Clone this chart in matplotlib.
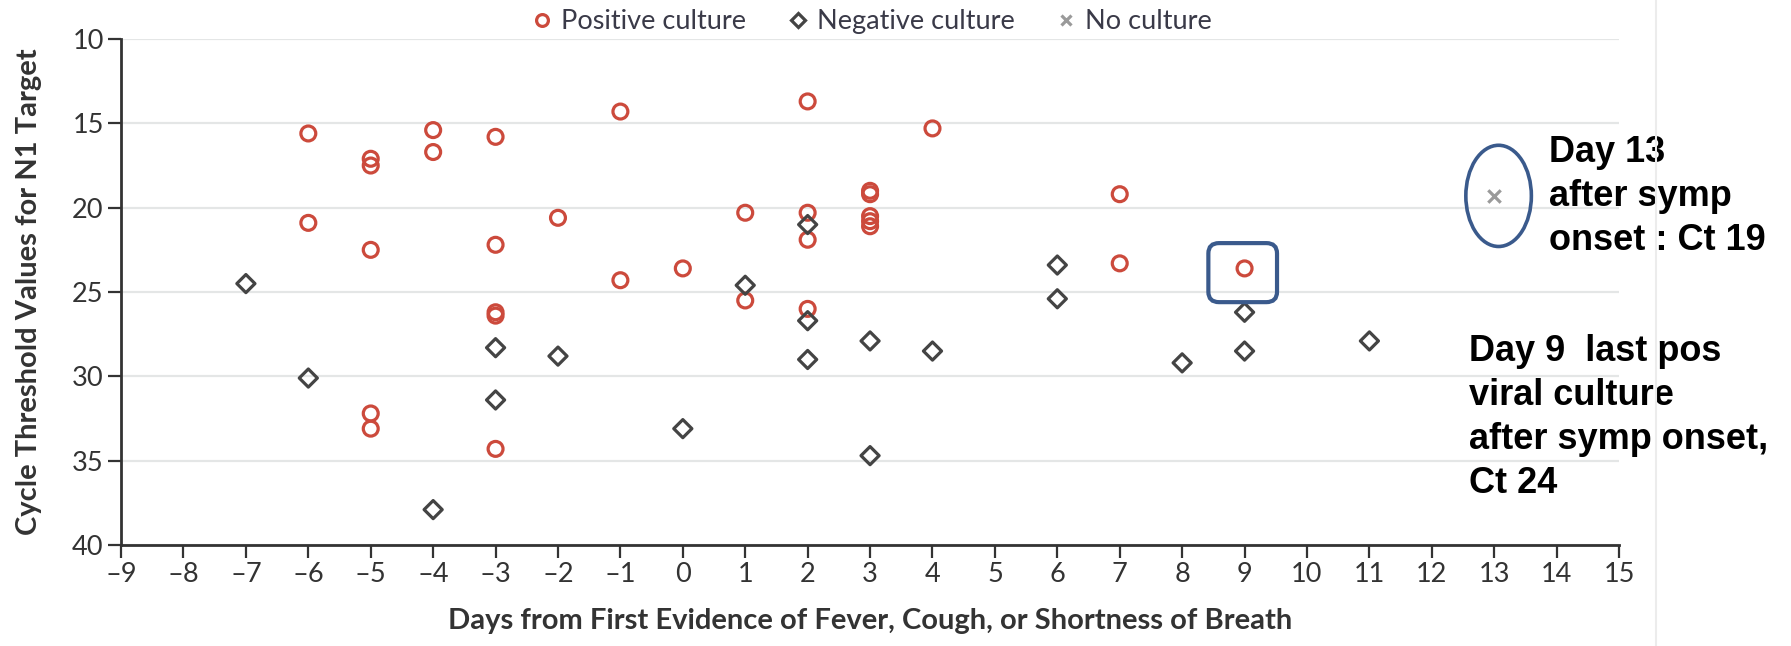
import matplotlib
matplotlib.use("Agg")
import matplotlib.pyplot as plt
from matplotlib.patches import Ellipse, FancyBboxPatch
from matplotlib.lines import Line2D

# days from symptom onset and Ct values
pos_days = [-6, -6, -5, -5, -5, -5, -5, -4, -4, -3, -3, -3, -3, -3, -2, -1, -1, 0,
            1, 1, 2, 2, 2, 2, 3, 3, 3, 3, 3, 4, 7, 7, 9]
pos_ct = [15.6, 20.9, 17.1, 17.5, 22.5, 32.2, 33.1, 15.4, 16.7, 15.8, 22.2, 26.2, 26.4, 34.3,
          20.6, 14.3, 24.3, 23.6, 20.3, 25.5, 13.7, 20.3, 21.9, 26.0, 19.0, 19.2, 20.5, 20.8,
          21.1, 15.3, 19.2, 23.3, 23.6]

neg_days = [-7, -6, -4, -3, -3, -2, 0, 1, 2, 2, 2, 3, 3, 4, 6, 6, 8, 9, 9, 11]
neg_ct = [24.5, 30.1, 37.9, 28.3, 31.4, 28.8, 33.1, 24.6, 21.0, 26.7, 29.0, 27.9, 34.7, 28.5,
          23.4, 25.4, 29.2, 26.2, 28.5, 27.9]

none_days = [13]
none_ct = [19.3]

x_ticks = list(range(-9, 16))
y_ticks = [10, 15, 20, 25, 30, 35, 40]

red = "#cc4a3c"
dark = "#444444"
grey = "#9a9a9a"
blue = "#3a5a8c"
text_col = "#333333"

plt.rcParams["font.family"] = ["Lato", "DejaVu Sans"]

fig = plt.figure(figsize=(17.91, 6.46), dpi=100)
ax = fig.add_axes([0.0676, 0.1563, 0.8364, 0.7833])

ax.scatter(pos_days, pos_ct, s=115, facecolors="none", edgecolors=red, linewidths=2.3,
           marker="o", zorder=3, clip_on=False)
ax.scatter(neg_days, neg_ct, s=85, facecolors="none", edgecolors=dark, linewidths=2.3,
           marker="D", zorder=3, clip_on=False)
ax.scatter(none_days, none_ct, s=80, color=grey, linewidths=2.3, marker="x", zorder=3,
           clip_on=False)

ax.set_xlim(-9, 15)
ax.set_ylim(40, 10)
ax.set_xticks(x_ticks)
ax.set_xticklabels([str(v).replace("-", "\u2013") for v in x_ticks])
ax.set_yticks(y_ticks)
ax.tick_params(axis="both", direction="out", length=9.5, width=1.6, color=text_col,
               labelsize=19.5, labelcolor=text_col, pad=3)
ax.yaxis.grid(True, color="#e4e6e6", linewidth=1.6)
ax.set_axisbelow(True)
for side in ["top", "right"]:
    ax.spines[side].set_visible(False)
for side in ["left", "bottom"]:
    ax.spines[side].set_color(text_col)
    ax.spines[side].set_linewidth(2)

fig.text(0.016, 0.548, "Cycle Threshold Values for N1 Target", rotation=90,
         ha="center", va="center", fontsize=21, fontweight="bold", color=text_col)
fig.text(0.4858, 0.038, "Days from First Evidence of Fever, Cough, or Shortness of Breath",
         ha="center", va="center", fontsize=21, fontweight="bold", color=text_col)

handles = [
    Line2D([], [], marker="o", ls="none", mfc="none", mec=red, mew=2.3, ms=8.5),
    Line2D([], [], marker="D", ls="none", mfc="none", mec=dark, mew=2.3, ms=7.5),
    Line2D([], [], marker="x", ls="none", color=grey, mew=2.3, ms=7.5),
]
leg = fig.legend(handles, ["Positive culture", "Negative culture", "No culture"],
                 loc="center", bbox_to_anchor=(0.4858, 0.966), ncol=3, frameon=False,
                 fontsize=19.5, handletextpad=0.2, columnspacing=1.4, handlelength=1.0)
for t in leg.get_texts():
    t.set_color("#3a3a48")

# annotations
last_x, last_y = pos_days[-1], pos_ct[-1]
box = FancyBboxPatch((last_x - 0.58, last_y - 1.5), 1.1, 3.5,
                     boxstyle="round,pad=0,rounding_size=0.17", mutation_aspect=3.6,
                     fill=False, edgecolor=blue, linewidth=3, clip_on=False, zorder=4)
ax.add_patch(box)
ax.add_patch(Ellipse((none_days[0] + 0.07, none_ct[0]), 1.05, 6.0, fill=False,
                     edgecolor=blue, linewidth=2.6, clip_on=False, zorder=4))

ax.text(13.88, 19.35, "Day 13\nafter symp\nonset : Ct 19", ha="left", va="center",
        fontsize=26, fontweight="bold", family="Liberation Sans", color="black",
        linespacing=1.33, clip_on=False)
ax.text(12.6, 32.45, "Day 9  last pos\nviral culture\nafter symp onset,\nCt 24", ha="left",
        va="center", fontsize=26, fontweight="bold", family="Liberation Sans", color="black",
        linespacing=1.33, clip_on=False)

fig.add_artist(Line2D([0.9246, 0.9246], [0, 1], transform=fig.transFigure,
                      color="#ececec", linewidth=1.5))

fig.savefig("out.png", dpi=100)
